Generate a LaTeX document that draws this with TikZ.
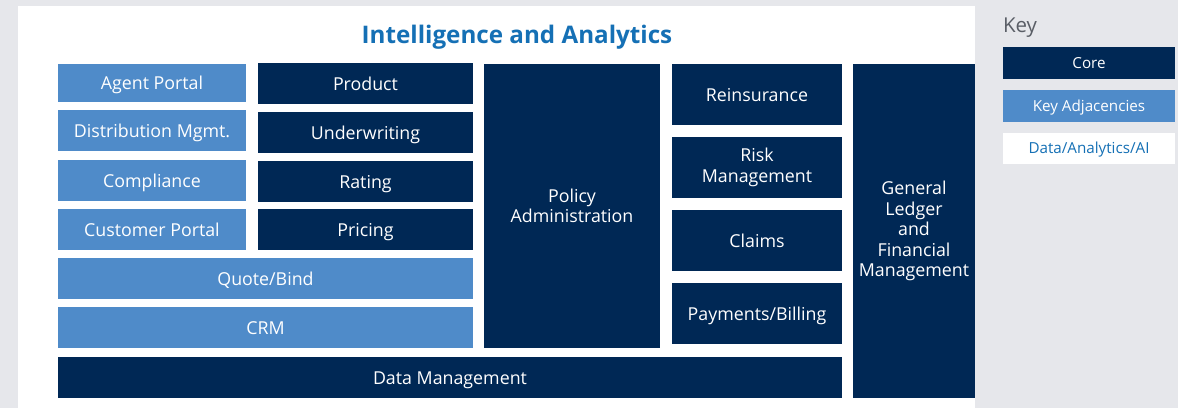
\documentclass[tikz,border=0pt]{standalone}
\usepackage{fontspec}
\setmainfont{Open Sans}
\definecolor{pagegray}{HTML}{E6E7EB}
\definecolor{navy}{HTML}{002855}
\definecolor{adjblue}{HTML}{4F8BC9}
\definecolor{titleblue}{HTML}{1570B5}
\definecolor{keygray}{HTML}{5A5E66}
\begin{document}
\begin{tikzpicture}[x=1pt,y=-1pt,
  blk/.style={anchor=north west,inner sep=0pt,outer sep=0pt,align=center,
    font=\fontsize{17.8}{20.5}\selectfont,text=white},
  one/.style={text height=17pt,text depth=4pt},
  core/.style={blk,fill=navy},
  adj/.style={blk,fill=adjblue},
  keybox/.style={anchor=north west,inner sep=0pt,outer sep=0pt,
    minimum width=172pt,font=\fontsize{15.2}{18}\selectfont,
    text height=14pt,text depth=3.5pt},
  sz/.style 2 args={minimum width=#1pt,minimum height=#2pt}]
% canvas and white panel
\fill[pagegray] (0,0) rectangle (1178,408);
\useasboundingbox (0,0) rectangle (1178,408);
\fill[white] (18,6) rectangle (975,408);
\node[font=\bfseries\fontsize{24.2}{29}\selectfont,text=titleblue] (title) at (517,37) {Intelligence and Analytics};
% key adjacencies, left column
\node[adj,one,sz={188}{38}] (agent) at (58,64) {Agent Portal};
\node[adj,one,sz={188}{41}] (dist) at (58,110) {Distribution Mgmt.};
\node[adj,one,sz={188}{41}] (compl) at (58,160) {Compliance};
\node[adj,one,sz={188}{41}] (cust) at (58,209) {Customer Portal};
% core, second column
\node[core,one,sz={215}{41}] (product) at (258,63) {Product};
\node[core,one,sz={215}{41}] (uw) at (258,112) {Underwriting};
\node[core,one,sz={215}{41}] (rating) at (258,161) {Rating};
\node[core,one,sz={215}{41}] (pricing) at (258,209) {Pricing};
% wide adjacency bars
\node[adj,one,sz={415}{41}] (quote) at (58,258) {Quote/Bind};
\node[adj,one,sz={415}{41}] (crm) at (58,307) {CRM};
% policy administration
\node[core,sz={176}{284}] (policy) at (484,64) {Policy\\Administration};
% right core column
\node[core,one,sz={170}{61}] (reins) at (672,64) {Reinsurance};
\node[core,sz={170}{61}] (risk) at (672,137) {Risk\\Management};
\node[core,one,sz={170}{61}] (claims) at (672,210) {Claims};
\node[core,one,sz={170}{61}] (pay) at (672,283) {Payments/Billing};
% data management base
\node[core,one,sz={784}{41}] (data) at (58,357) {Data Management};
% general ledger
\node[core,sz={122}{334}] (gl) at (853,64) {General\\Ledger\\and\\Financial\\Management};
% key
\node[inner sep=0pt,font=\fontsize{20.5}{24}\selectfont,text=keygray] (keyhead) at (1020,27.5) {Key};
\node[keybox,fill=navy,text=white,minimum height=32pt] (kcore) at (1003,47) {Core};
\node[keybox,fill=adjblue,text=white,minimum height=32pt] (kadj) at (1003,90) {Key Adjacencies};
\node[keybox,fill=white,text=titleblue,minimum height=31pt] (kdata) at (1003,133) {Data/Analytics/AI};
\end{tikzpicture}
\end{document}
